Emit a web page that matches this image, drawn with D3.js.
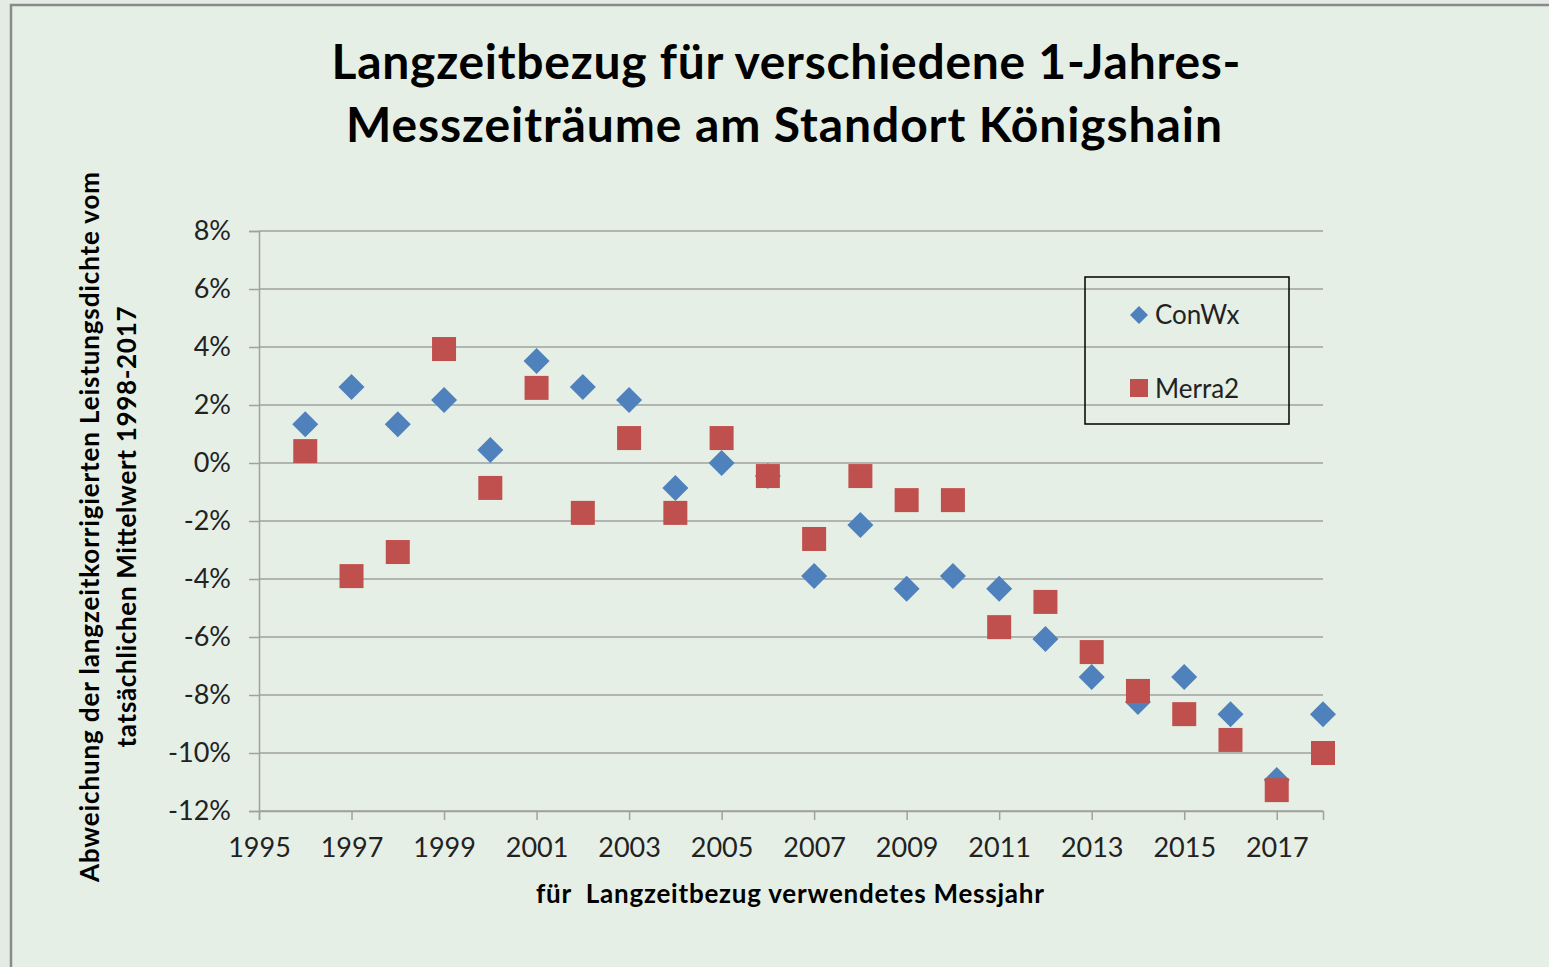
<!DOCTYPE html>
<html>
<head>
<meta charset="utf-8">
<script src="https://cdn.jsdelivr.net/npm/d3@7"></script>
<style>
  body { margin: 0; background: #e4ebe4; }
  svg { display: block; }
  text { font-family: Lato, "Open Sans", sans-serif; }
</style>
</head>
<body>
<svg id="chart" width="1549" height="967"></svg>
<script>
// years measured (x) and deviation in percent for each source
let years = [1996, 1997, 1998, 1999, 2000, 2001, 2002, 2003, 2004, 2005, 2006, 2007,
             2008, 2009, 2010, 2011, 2012, 2013, 2014, 2015, 2016, 2017, 2018];
let conwx = [1.34, 2.62, 1.34, 2.17, 0.45, 3.52, 2.62, 2.17, -0.86, 0.0, -0.45, -3.9,
             -2.14, -4.34, -3.9, -4.34, -6.07, -7.38, -8.24, -7.38, -8.66, -10.93, -8.66];
let merra2 = [0.41, -3.9, -3.07, 3.93, -0.86, 2.59, -1.72, 0.86, -1.72, 0.86, -0.45, -2.62,
              -0.45, -1.28, -1.28, -5.66, -4.79, -6.52, -7.86, -8.66, -9.55, -11.28, -10.0];
let xTicks = [1995, 1997, 1999, 2001, 2003, 2005, 2007, 2009, 2011, 2013, 2015, 2017];
let yTicks = [8, 6, 4, 2, 0, -2, -4, -6, -8, -10, -12];
let seriesNames = ['ConWx', 'Merra2'];

const svg = d3.select('#chart');

// chart area background + frame (only left and top edges visible)
svg.append('rect')
    .attr('x', 11).attr('y', 5)
    .attr('width', 1560).attr('height', 990)
    .attr('fill', '#e5efe5')
    .attr('stroke', '#8a8a8a')
    .attr('stroke-width', 2.5);

const x = d3.scaleLinear().domain([1995, 2018]).range([259, 1323]);
const y = d3.scaleLinear().domain([-12, 8]).range([811, 231]);

// grid lines
svg.append('g')
    .selectAll('line')
    .data(yTicks)
    .join('line')
    .attr('x1', 259).attr('x2', 1323)
    .attr('y1', d => y(d)).attr('y2', d => y(d))
    .attr('stroke', '#a0a0a0')
    .attr('stroke-width', 1.5);

// y axis
const yAxis = svg.append('g')
    .attr('transform', 'translate(259,0)')
    .call(d3.axisLeft(y).tickValues(yTicks).tickSize(10).tickPadding(18)
        .tickFormat(d => d + '%'));
yAxis.select('.domain').attr('stroke', '#a0a0a0').attr('stroke-width', 1.5);
yAxis.selectAll('.tick line').attr('stroke', '#a0a0a0').attr('stroke-width', 1.5);
yAxis.selectAll('text')
    .attr('font-size', 27)
    .attr('fill', '#222')
    .style('font-family', 'Lato, sans-serif');

// x axis
const xAxis = svg.append('g')
    .attr('transform', 'translate(0,811)')
    .call(d3.axisBottom(x).tickValues(xTicks).tickSize(9).tickPadding(18)
        .tickFormat(d3.format('d')));
xAxis.select('.domain').attr('stroke', '#a0a0a0').attr('stroke-width', 1.5);
xAxis.selectAll('.tick line').attr('stroke', '#a0a0a0').attr('stroke-width', 1.5);
xAxis.selectAll('text')
    .attr('font-size', 27)
    .attr('fill', '#222')
    .style('font-family', 'Lato, sans-serif');

// ConWx diamonds
svg.append('g')
    .selectAll('path')
    .data(years.map((yr, i) => ({yr: yr, v: conwx[i]})))
    .join('path')
    .attr('d', 'M0,-13L13,0L0,13L-13,0Z')
    .attr('transform', d => 'translate(' + x(d.yr) + ',' + y(d.v) + ')')
    .attr('fill', '#4f81bd');

// Merra2 squares
svg.append('g')
    .selectAll('rect')
    .data(years.map((yr, i) => ({yr: yr, v: merra2[i]})))
    .join('rect')
    .attr('x', d => x(d.yr) - 12)
    .attr('y', d => y(d.v) - 12)
    .attr('width', 24).attr('height', 24)
    .attr('fill', '#c0504d');

// title
const title = svg.append('text')
    .attr('text-anchor', 'middle')
    .attr('font-size', 48)
    .attr('font-weight', 'bold')
    .attr('fill', '#000');
title.append('tspan').attr('x', 786).attr('y', 79)
    .attr('textLength', 909).attr('lengthAdjust', 'spacing')
    .text('Langzeitbezug für verschiedene 1-Jahres-');
title.append('tspan').attr('x', 784).attr('y', 142)
    .attr('textLength', 876).attr('lengthAdjust', 'spacing')
    .text('Messzeiträume am Standort Königshain');

// y axis title
const yTitle = svg.append('text')
    .attr('transform', 'translate(0,527) rotate(-90)')
    .attr('text-anchor', 'middle')
    .attr('font-size', 26)
    .attr('font-weight', 'bold')
    .attr('fill', '#000');
yTitle.append('tspan').attr('x', 0).attr('y', 99)
    .attr('textLength', 710).attr('lengthAdjust', 'spacing')
    .text('Abweichung der langzeitkorrigierten Leistungsdichte vom');
yTitle.append('tspan').attr('x', 0).attr('y', 136)
    .attr('textLength', 441).attr('lengthAdjust', 'spacing')
    .text('tatsächlichen Mittelwert 1998-2017');

// x axis title
svg.append('text')
    .attr('x', 790).attr('y', 903)
    .attr('text-anchor', 'middle')
    .attr('font-size', 26)
    .attr('font-weight', 'bold')
    .attr('fill', '#000')
    .attr('xml:space', 'preserve')
    .attr('textLength', 508).attr('lengthAdjust', 'spacing')
    .text('für  Langzeitbezug verwendetes Messjahr');

// legend
const legend = svg.append('g');
legend.append('rect')
    .attr('x', 1085).attr('y', 277)
    .attr('width', 204).attr('height', 147)
    .attr('fill', 'none')
    .attr('stroke', '#000')
    .attr('stroke-width', 1.5);
legend.append('path')
    .attr('d', 'M0,-9L9,0L0,9L-9,0Z')
    .attr('transform', 'translate(1139,315)')
    .attr('fill', '#4f81bd');
legend.append('rect')
    .attr('x', 1130).attr('y', 379)
    .attr('width', 18).attr('height', 18)
    .attr('fill', '#c0504d');
legend.selectAll('text.lbl')
    .data(seriesNames)
    .join('text')
    .attr('class', 'lbl')
    .attr('x', 1155)
    .attr('y', (d, i) => 324 + i * 74)
    .attr('font-size', 26)
    .attr('fill', '#222')
    .text(d => d);
</script>
</body>
</html>
